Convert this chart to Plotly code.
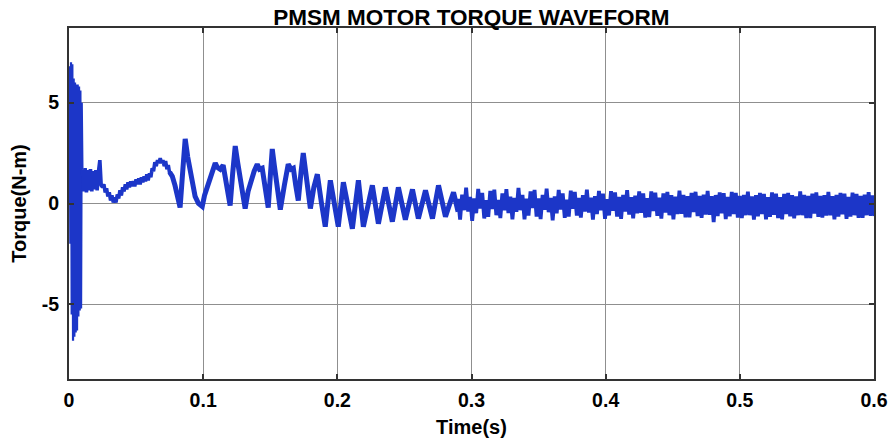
import numpy as np
import plotly.graph_objects as go

# ---------------- data ----------------
# start-up transient (uniformly sampled)
startup_t0 = 0.0
startup_dt = 0.0005
startup_torque = [0.0, 6.8, -2.0, 7.0, -5.5, 6.9, -6.8, 6.2, -6.6, 6.0,
                  -6.4, 5.9, -6.3, 5.9, -5.6, 5.8, -5.3, 5.6, -5.2, 5.0]

# early noisy band 0.010 .. 0.075 s
early_t0 = 0.010
early_dt = 0.001
early_torque = [1.7, 0.6, 1.75, 0.55, 1.65, 0.65, 1.7, 0.6, 1.6, 0.7,
                1.65, 0.65, 1.6, 2.15, 0.9, 0.80, 0.95, 0.55, 0.75, 0.35,
                0.55, 0.15, 0.40, 0.05, 0.30, 0.05, 0.45, 0.25, 0.65, 0.40,
                0.80, 0.60, 0.95, 0.70, 1.05, 0.80, 1.10, 0.85, 1.10, 0.85,
                1.20, 0.95, 1.25, 0.95, 1.30, 1.05, 1.35, 1.10, 1.45, 1.15,
                1.50, 1.30, 1.75, 1.60, 2.05, 1.85, 2.15, 2.00, 2.25, 2.00,
                2.15, 1.85, 2.10, 1.70, 1.90, 1.50]

# oscillation peaks / troughs 0.075 .. 0.29 s
mid_time = [0.0750, 0.0770, 0.0790, 0.0810, 0.0828, 0.0850, 0.0866, 0.0885, 0.0903, 0.0920,
            0.0940, 0.0965, 0.0993, 0.1010, 0.1030, 0.1060, 0.1090, 0.1105, 0.1127, 0.1149,
            0.1175, 0.1201, 0.1220, 0.1239, 0.1258, 0.1276, 0.1295, 0.1313, 0.1335, 0.1351,
            0.1380, 0.1403, 0.1420, 0.1440, 0.1465, 0.1485, 0.1500, 0.1515, 0.1530, 0.1545,
            0.1575, 0.1605, 0.1634, 0.1655, 0.1672, 0.1690, 0.1709, 0.1730, 0.1746, 0.1775,
            0.1799, 0.1825, 0.1851, 0.1880, 0.1910, 0.1948, 0.2007, 0.2045, 0.2112, 0.2157,
            0.2194, 0.2261, 0.2306, 0.2358, 0.2410, 0.2455, 0.2507, 0.2560, 0.2604, 0.2657,
            0.2709, 0.2754, 0.2806, 0.2866, 0.2900]
mid_torque = [1.55, 1.35, 0.9, 0.2, -0.2, 1.8, 3.2, 2.3, 1.6, 0.9,
              0.35, 0.0, -0.15, 0.4, 0.85, 1.5, 2.0, 1.8, 1.7, 1.9,
              0.9, -0.1, 1.5, 2.85, 2.0, 1.3, 0.5, -0.25, 0.6, 1.0,
              1.6, 1.95, 1.7, 1.75, 0.8, -0.2, 1.3, 2.7, 1.9, 1.15,
              -0.3, 0.9, 1.95, 1.7, 1.75, 0.9, 0.15, 1.6, 2.5, 1.0,
              -0.25, 0.8, 1.45, 0.1, -1.15, 1.15, -1.15, 1.05, -1.25, 1.15,
              -1.15, 0.9, -1.0, 0.8, -0.9, 0.8, -0.8, 0.7, -0.75, 0.65,
              -0.75, 0.9, -0.65, 0.55, -0.4]

# steady-state ripple band 0.29 .. 0.6 s (uniformly sampled)
late_t0 = 0.290
late_dt = 0.0015
late_torque = [
    0.23, -0.80, 0.44, -0.33, 0.78, -0.40, 0.33, -0.86, 0.25, -0.48, 0.72, -0.25, 0.52, -0.74, 0.16, -0.66, 0.62, -0.27, 0.69, -0.58,
    0.17, -0.72, 0.50, -0.34, 0.71, -0.47, 0.34, -0.78, 0.27, -0.41, 0.77, -0.33, 0.43, -0.79, 0.24, -0.60, 0.60, -0.22, 0.67, -0.65,
    0.25, -0.77, 0.42, -0.31, 0.73, -0.43, 0.28, -0.83, 0.35, -0.49, 0.67, -0.30, 0.50, -0.71, 0.19, -0.65, 0.64, -0.26, 0.57, -0.60,
    0.27, -0.70, 0.41, -0.40, 0.69, -0.45, 0.29, -0.80, 0.36, -0.52, 0.62, -0.34, 0.49, -0.76, 0.21, -0.59, 0.61, -0.36, 0.55, -0.65,
    0.32, -0.76, 0.43, -0.40, 0.66, -0.55, 0.31, -0.73, 0.39, -0.49, 0.60, -0.46, 0.50, -0.70, 0.26, -0.67, 0.60, -0.37, 0.54, -0.61,
    0.29, -0.75, 0.50, -0.45, 0.57, -0.58, 0.41, -0.79, 0.34, -0.52, 0.64, -0.51, 0.43, -0.69, 0.36, -0.68, 0.52, -0.42, 0.58, -0.62,
    0.38, -0.71, 0.44, -0.55, 0.62, -0.56, 0.36, -0.92, 0.42, -0.62, 0.55, -0.49, 0.51, -0.77, 0.32, -0.64, 0.58, -0.53, 0.52, -0.70,
    0.37, -0.72, 0.42, -0.58, 0.59, -0.58, 0.35, -0.80, 0.41, -0.64, 0.53, -0.52, 0.48, -0.78, 0.31, -0.66, 0.55, -0.56, 0.49, -0.72,
    0.31, -0.78, 0.48, -0.52, 0.53, -0.64, 0.41, -0.74, 0.35, -0.58, 0.60, -0.58, 0.42, -0.72, 0.37, -0.72, 0.49, -0.50, 0.55, -0.66,
    0.38, -0.70, 0.41, -0.60, 0.58, -0.59, 0.36, -0.78, 0.43, -0.65, 0.52, -0.54, 0.49, -0.76, 0.32, -0.65, 0.54, -0.58, 0.48, -0.71,
    0.37, -0.71, 0.44, -0.58, 0.56, -0.61, 0.40, -0.62]

x_tick_vals = [0, 0.1, 0.2, 0.3, 0.4, 0.5, 0.6]
x_tick_text = ["0", "0.1", "0.2", "0.3", "0.4", "0.5", "0.6"]
y_tick_vals = [-5, 0, 5]
y_tick_text = ["-5", "0", "5"]

title_text = "PMSM MOTOR TORQUE WAVEFORM"
x_title = "Time(s)"
y_title = "Torque(N-m)"

# ---------------- build segments ----------------
startup_t = startup_t0 + startup_dt * np.arange(len(startup_torque))
early_t = early_t0 + early_dt * np.arange(len(early_torque))
late_t = late_t0 + late_dt * np.arange(len(late_torque))

LINE_COLOR = "#1c36c8"
FONT = "Liberation Sans, Arial, sans-serif"

segments = [
    (np.append(startup_t, early_t[0]), startup_torque + [early_torque[0]], 2.2),
    (early_t, early_torque, 3.6),
    (np.array(mid_time), mid_torque, 5.0),
    (np.append(mid_time[-1], late_t), [mid_torque[-1]] + late_torque, 3.8),
]

fig = go.Figure()
for t, v, w in segments:
    fig.add_trace(go.Scatter(x=t, y=v, mode="lines",
                             line=dict(color=LINE_COLOR, width=w),
                             hoverinfo="skip", showlegend=False))

axis_common = dict(
    showgrid=True, gridcolor="#8f8f8f", gridwidth=1.2,
    showline=True, linecolor="#333333", linewidth=2, mirror="allticks",
    ticks="inside", ticklen=5, tickwidth=1.5, tickcolor="#333333",
    zeroline=False, automargin=False,
    tickfont=dict(family=FONT, size=19.5, color="black", weight="bold"),
)

fig.update_layout(
    width=893, height=446,
    margin=dict(l=69, r=19, t=28, b=67),
    paper_bgcolor="white", plot_bgcolor="white",
    title=dict(text=title_text, x=0.5, xref="paper", xanchor="center",
               y=0.962, yanchor="middle", yref="container",
               font=dict(family=FONT, size=22.5, color="black", weight="bold")),
    xaxis=dict(range=[0, 0.6], tickvals=x_tick_vals, ticktext=x_tick_text,
               ticklabelstandoff=3,
               title=dict(text=x_title, standoff=10,
                          font=dict(family=FONT, size=20, color="black", weight="bold")),
               **axis_common),
    yaxis=dict(range=[-8.7, 8.7], tickvals=y_tick_vals, ticktext=y_tick_text,
               ticklabelstandoff=4,
               title=dict(text=y_title, standoff=10,
                          font=dict(family=FONT, size=20, color="black", weight="bold")),
               **axis_common),
)

fig.write_html("out.html", config={"displayModeBar": False},
               post_script="document.body.style.margin='0';document.body.style.padding='0';")
